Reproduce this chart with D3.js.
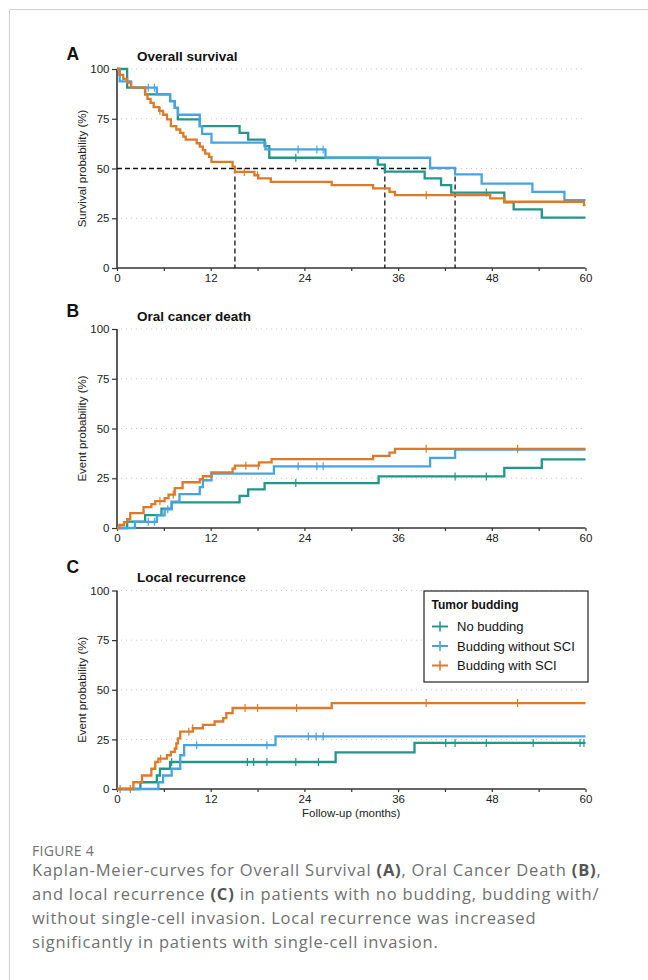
<!DOCTYPE html>
<html>
<head>
<meta charset="utf-8">
<script src="https://cdn.jsdelivr.net/npm/d3@7"></script>
<style>
  body { margin: 0; background: #fff; }
  svg { display: block; }
</style>
</head>
<body>
<svg id="chart"></svg>
<script>
// ---- data ----
const groups = ["No budding", "Budding without SCI", "Budding with SCI"];
const colors = ["#21968a", "#4aa2de", "#dc7a2a"];
const xTicks = [0, 12, 24, 36, 48, 60];
const yTicks = [0, 25, 50, 75, 100];

// A: overall survival  [month, %]
const osNone = [[0,100],[1.3,90.6],[3.6,87.2],[6.8,83.9],[7.4,80.5],[7.8,74.7],[10.6,71.3],[15.7,67.9],[16.8,64.5],[18.9,61.2],[19.5,55.4],[33.4,51.9],[34.3,48.4],[39.4,45],[41.5,41.6],[42.8,37.9],[49.6,33],[50.8,29.5],[54.4,25.3]];
const osNoSci = [[0,100],[0.35,93.8],[1.8,90.6],[5.1,87.2],[6.8,83.9],[7.4,80.5],[7.8,77],[10.6,71.3],[10.9,67.4],[12.1,63],[19,59.6],[26.7,55.4],[40.1,50.3],[43.3,47],[46.7,42.4],[53.2,38.3],[57.3,34.1]];
const osSci = [[0,100],[0.3,97],[0.8,95],[1.3,93.2],[1.8,90.6],[3.6,87.2],[3.9,85],[4.3,83],[4.7,80.8],[5.4,79],[5.9,77],[6.4,74.7],[6.9,71.3],[7.6,69.6],[8.1,67.9],[8.5,66],[8.8,64.5],[10.2,62.7],[10.6,61],[11,59.2],[11.3,57.5],[11.8,55.8],[12.1,53.3],[14.8,50.9],[15.1,48.3],[17.6,46.6],[18.1,45],[19.7,43.3],[27.5,41.6],[32.8,40],[34.9,38.3],[35.6,36.6],[47.8,35],[49.6,33.3],[59.8,31.6]];
const osNoneCens = [22.9, 47.3];
const osNoSciCens = [4.0, 4.8, 23.2, 25.6, 26.4];
const osSciCens = [5.5, 16.3, 18.0, 39.6];

// B: oral cancer death
const ocdNone = [[0,0],[1.3,3.2],[3.6,6.5],[5.7,9.7],[7,12.9],[15.7,16.1],[16.8,19.4],[18.9,22.6],[33.5,25.9],[49.6,30.2],[54.4,34.5]];
const ocdNoSci = [[0,0],[2.3,3.1],[5.1,6.3],[6.1,9.4],[7,13.3],[8,17],[10.6,20.5],[11,24],[12.1,27.3],[20.1,31],[40.1,35.2],[43.3,39.4]];
const ocdSci = [[0,0],[0.3,1.5],[0.9,3],[1.3,4.5],[1.7,7.5],[3.4,10.5],[4.4,12],[4.9,13.5],[6.1,15],[6.6,16.8],[7.4,20],[8.4,23],[10.6,24.5],[11,26],[12.1,28],[14.8,29.8],[15.1,31.3],[18.2,33],[19.8,34.6],[32.8,36.2],[34.9,37.9],[35.6,39.8]];
const ocdNoneCens = [22.9, 43.3, 47.3];
const ocdNoSciCens = [4.0, 4.8, 6.5, 23.2, 25.6, 26.4];
const ocdSciCens = [5.5, 7.2, 16.5, 18.1, 39.6, 51.3];

// C: local recurrence
const lrNone = [[0,0],[3,3.4],[5.1,6.8],[5.5,10.2],[6.8,13.6],[28,18.5],[38.1,23.2]];
const lrNoSci = [[0,0],[5.3,3.4],[5.9,6.8],[7,10.2],[8.1,17],[8.6,22.1],[20.3,26.5]];
const lrSci = [[0,0],[2.1,3.4],[3.2,6.8],[4.4,10.2],[4.9,13.6],[5.3,15.3],[6.4,17],[6.9,18.7],[7.4,20.4],[7.6,23],[7.8,25.5],[8.1,28.9],[9.7,30.6],[11,32.3],[12.5,34],[13.6,35.7],[14,38.2],[14.8,40.8],[27.5,43.3]];
const lrNoneCens = [7, 16.7, 17.5, 19.2, 22.9, 25.8, 42.1, 43.3, 47.3, 53.3, 59.3, 59.8];
const lrNoSciCens = [10.2, 19.2, 24.5, 25.5, 26.4];
const lrSciCens = [0.4, 1.7, 5.6, 9.2, 9.7, 16.4, 18, 23, 39.6, 51.3];

// ---- layout ----
const W = 648, H = 980;
const xLeft = 117, xRight = 585.5;

const panels = [
  {letter: "A", title: "Overall survival", ylabel: "Survival probability (%)", top: 69, bottom: 268,
   letterY: 59.5, titleY: 60.5, series: [osNone, osNoSci, osSci], cens: [osNoneCens, osNoSciCens, osSciCens], medians: true},
  {letter: "B", title: "Oral cancer death", ylabel: "Event probability (%)", top: 329, bottom: 528,
   letterY: 317, titleY: 320.5, series: [ocdNone, ocdNoSci, ocdSci], cens: [ocdNoneCens, ocdNoSciCens, ocdSciCens]},
  {letter: "C", title: "Local recurrence", ylabel: "Event probability (%)", top: 590.5, bottom: 789,
   letterY: 573, titleY: 581.5, series: [lrNone, lrNoSci, lrSci], cens: [lrNoneCens, lrNoSciCens, lrSciCens], legend: true, xlabel: "Follow-up (months)"}
];

const svg = d3.select("#chart").attr("width", W).attr("height", H);
svg.append("rect").attr("width", W).attr("height", H).attr("fill", "#fff");

// page frame
svg.append("path")
  .attr("d", `M9.5,${H} V9.5 H${W}`)
  .attr("fill", "none").attr("stroke", "#cfcfcf").attr("stroke-width", 1);

const x = d3.scaleLinear().domain([0, 60]).range([xLeft, xRight]);

const valueAt = (steps, t) => {
  let v = steps[0][1];
  for (const s of steps) { if (s[0] <= t) v = s[1]; }
  return v;
};

const font = "'Liberation Sans', Arial, sans-serif";

const drawPanel = p => {
  const y = d3.scaleLinear().domain([0, 100]).range([p.bottom, p.top]);
  const g = svg.append("g").attr("font-family", font);

  // letter + title
  g.append("text").attr("x", 66.5).attr("y", p.letterY)
    .attr("font-size", 17.5).attr("font-weight", "bold").attr("fill", "#111").text(p.letter);
  g.append("text").attr("x", 137).attr("y", p.titleY)
    .attr("font-size", 13.5).attr("font-weight", "bold").attr("fill", "#111").text(p.title);

  // dotted grid
  g.append("g").selectAll("line")
    .data(yTicks.filter(d => d > 0))
    .join("line")
    .attr("x1", xLeft + 4).attr("x2", xRight)
    .attr("y1", d => y(d)).attr("y2", d => y(d))
    .attr("stroke", "#c8c8c8").attr("stroke-width", 1)
    .attr("stroke-dasharray", "1,4");

  // axes
  const xa = g.append("g").attr("transform", `translate(0,${p.bottom})`)
    .call(d3.axisBottom(x).tickValues(d3.range(0, 61, 6)).tickSize(3)
      .tickFormat(d => xTicks.includes(d) ? d : ""));
  const ya = g.append("g").attr("transform", `translate(${xLeft},0)`)
    .call(d3.axisLeft(y).tickValues(yTicks).tickSize(5));
  [xa, ya].forEach(a => {
    a.select(".domain").attr("stroke", "#333").attr("stroke-width", 1.6);
    a.selectAll(".tick line").attr("stroke", "#333").attr("stroke-width", 1.2);
    a.selectAll(".tick text").attr("font-size", 11.5).attr("fill", "#222").attr("font-family", font);
  });
  xa.select(".domain").attr("d", `M${xLeft},0H${xRight}`);
  ya.select(".domain").attr("d", `M0,${p.bottom}V${p.top}`);
  xa.selectAll(".tick text").attr("y", 6).attr("dy", "0.71em");
  ya.selectAll(".tick text").attr("x", -7.5);

  // y label
  g.append("text")
    .attr("transform", `translate(86,${(p.top + p.bottom) / 2}) rotate(-90)`)
    .attr("text-anchor", "middle").attr("font-size", 11.5).attr("fill", "#222")
    .text(p.ylabel);

  if (p.xlabel) {
    g.append("text").attr("x", (xLeft + xRight) / 2).attr("y", 816.5)
      .attr("text-anchor", "middle").attr("font-size", 11.5).attr("fill", "#222")
      .text(p.xlabel);
  }

  // median lines
  if (p.medians) {
    const meds = p.series.map(s => s.find(d => d[1] <= 50)[0]);
    const dash = g.append("g").attr("stroke", "#111").attr("stroke-width", 1.3)
      .attr("stroke-dasharray", "5,3").attr("fill", "none");
    dash.append("line").attr("x1", x(0)).attr("x2", x(d3.max(meds)))
      .attr("y1", y(50)).attr("y2", y(50));
    dash.selectAll(".v").data(meds).join("line")
      .attr("x1", d => x(d)).attr("x2", d => x(d))
      .attr("y1", y(50)).attr("y2", y(0));
  }

  // curves
  const line = d3.line().x(d => x(d[0])).y(d => y(d[1])).curve(d3.curveStepAfter);
  p.series.forEach((s, i) => {
    const pts = s.concat([[60, s[s.length - 1][1]]]);
    g.append("path").datum(pts)
      .attr("fill", "none").attr("stroke", colors[i]).attr("stroke-width", 2.3)
      .attr("d", line);
    g.append("g").selectAll("line").data(p.cens[i]).join("line")
      .attr("x1", d => x(d)).attr("x2", d => x(d))
      .attr("y1", d => y(valueAt(s, d)) - 4).attr("y2", d => y(valueAt(s, d)) + 4)
      .attr("stroke", colors[i]).attr("stroke-width", 1.2);
  });

  // legend
  if (p.legend) {
    const lg = g.append("g").attr("transform", "translate(424,591)");
    lg.append("rect").attr("width", 164).attr("height", 91)
      .attr("fill", "#fff").attr("stroke", "#222").attr("stroke-width", 1.2);
    lg.append("text").attr("x", 7.5).attr("y", 17.5)
      .attr("font-size", 12).attr("font-weight", "bold").attr("fill", "#111").text("Tumor budding");
    groups.forEach((name, i) => {
      const yy = 35.5 + i * 19.5;
      lg.append("line").attr("x1", 8).attr("x2", 24).attr("y1", yy).attr("y2", yy)
        .attr("stroke", colors[i]).attr("stroke-width", 2);
      lg.append("line").attr("x1", 16).attr("x2", 16).attr("y1", yy - 5).attr("y2", yy + 5)
        .attr("stroke", colors[i]).attr("stroke-width", 1.5);
      lg.append("text").attr("x", 33).attr("y", yy + 4.5)
        .attr("font-size", 13).attr("fill", "#111").text(name);
    });
  }
};

panels.forEach(drawPanel);

// caption
const cap = svg.append("g").attr("font-family", "'Open Sans', 'Noto Sans', sans-serif").attr("fill", "#707070");
cap.append("text").attr("x", 32).attr("y", 855.5).attr("font-size", 14).attr("letter-spacing", 0.3).text("FIGURE 4");
const capLines = [
  [["Kaplan-Meier-curves for Overall Survival ", 0], ["(A)", 1], [", Oral Cancer Death ", 0], ["(B)", 1], [",", 0]],
  [["and local recurrence ", 0], ["(C)", 1], [" in patients with no budding, budding with/", 0]],
  [["without single-cell invasion. Local recurrence was increased", 0]],
  [["significantly in patients with single-cell invasion.", 0]]
];
capLines.forEach((parts, i) => {
  const t = cap.append("text").attr("x", 32).attr("y", 876 + i * 24)
    .attr("font-size", 16.5).attr("letter-spacing", 0.8);
  parts.forEach(([s, b]) => {
    t.append("tspan").attr("font-weight", b ? 700 : 400).attr("fill", b ? "#555" : null).text(s);
  });
});
</script>
</body>
</html>
